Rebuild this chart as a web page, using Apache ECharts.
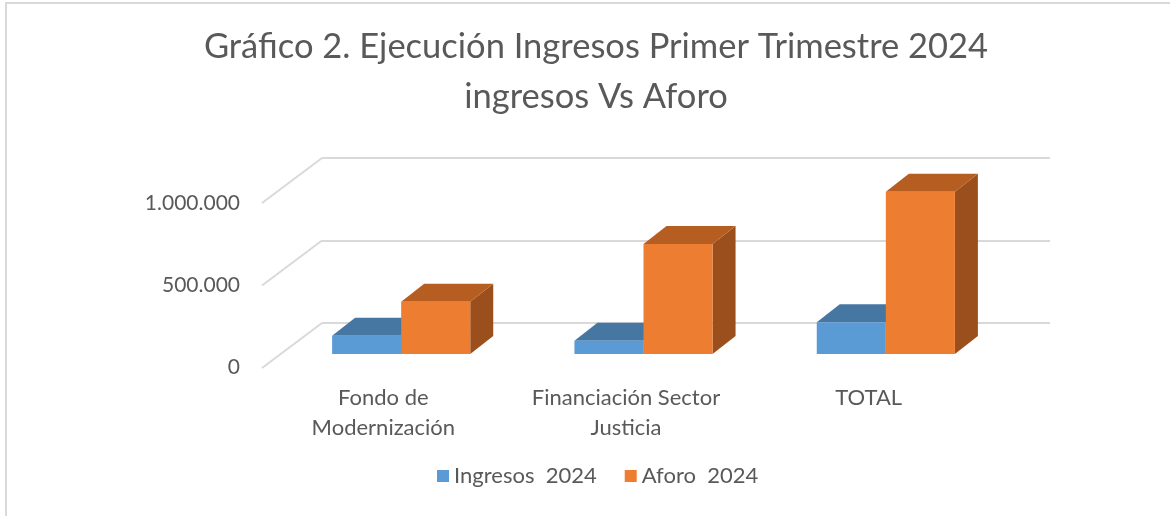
<!DOCTYPE html>
<html>
<head>
<meta charset="utf-8">
<script src="https://cdn.jsdelivr.net/npm/echarts@6/dist/echarts.min.js"></script>
<style>
  html, body { margin: 0; padding: 0; background: #fff; }
  #chart { width: 1170px; height: 516px; }
</style>
</head>
<body>
<div id="chart"></div>
<script>
let categories = ["Fondo de\nModernización", "Financiación Sector\nJusticia", "TOTAL"];
let ingresos = [111000, 81000, 192000];
let aforo = [317000, 667000, 984000];
let yTicks = [0, 500000, 1000000];
let seriesNames = ["Ingresos  2024", "Aforo  2024"];

let textColor = "#595959";
let fontFam = "Lato, 'Open Sans', sans-serif";
// front, top, side
let blueShades = ["#5B9BD5", "#4677A3", "#3F6E98"];
let orangeShades = ["#ED7D31", "#B65E22", "#9A4F1C"];

let chart = echarts.init(document.getElementById('chart'), null, { renderer: 'canvas' });

function fmt(v) {
  return String(v).replace(/\B(?=(\d{3})+(?!\d))/g, ".");
}

// 3d box: pos 0 = left half of band, 1 = right half
function boxItem(shades, pos) {
  return function (params, api) {
    let idx = api.value(0);
    let val = api.value(1);
    let top = api.coord([idx, val]);
    let base = api.coord([idx, 0]);
    let band = api.size([1, 0])[0];
    let w = band * 0.285;
    let x0 = pos == 0 ? top[0] - w : top[0];
    let x1 = x0 + w;
    let dx = 23, dy = -18;
    return {
      type: 'group',
      children: [
        {
          type: 'polygon',
          shape: { points: [[x1, top[1]], [x1 + dx, top[1] + dy], [x1 + dx, base[1] + dy], [x1, base[1]]] },
          style: { fill: shades[2] }
        },
        {
          type: 'polygon',
          shape: { points: [[x0, top[1]], [x0 + dx, top[1] + dy], [x1 + dx, top[1] + dy], [x1, top[1]]] },
          style: { fill: shades[1] }
        },
        {
          type: 'rect',
          shape: { x: x0, y: top[1], width: w, height: base[1] - top[1] },
          style: { fill: shades[0] }
        }
      ]
    };
  };
}

let option = {
  backgroundColor: "#ffffff",
  animation: false,
  title: {
    text: "Gráfico 2. Ejecución Ingresos Primer Trimestre 2024\ningresos Vs Aforo",
    left: 591,
    top: 17,
    textAlign: 'center',
    textStyle: {
      fontFamily: fontFam,
      fontSize: 34.5,
      fontWeight: 'normal',
      color: textColor,
      lineHeight: 50
    }
  },
  legend: {
    data: seriesNames,
    bottom: 24,
    left: 432,
    icon: 'rect',
    itemWidth: 12,
    itemHeight: 12,
    itemGap: 28,
    textStyle: { fontFamily: fontFam, fontSize: 22, color: textColor }
  },
  graphic: [{
    type: 'rect',
    shape: { x: 6, y: 3, width: 1200, height: 600 },
    style: { fill: null, stroke: '#d9d9d9', lineWidth: 2 },
    silent: true
  }],
  grid: [
    // bar plane
    { left: 280, right: 163, top: 189, bottom: 162 },
    // front floor plane
    { left: 262, right: 180, top: 203, bottom: 149 },
    // back wall
    { left: 322, right: 120, top: 158, bottom: 193 }
  ],
  xAxis: [
    { type: 'category', gridIndex: 0, data: categories, show: false },
    {
      type: 'category', gridIndex: 1, data: categories,
      axisLine: { show: false }, axisTick: { show: false },
      axisLabel: { interval: 0, margin: 16, fontFamily: fontFam, fontSize: 22, color: textColor, lineHeight: 30 }
    },
    { type: 'value', gridIndex: 2, min: 0, max: 1, show: false }
  ],
  yAxis: [
    { type: 'value', gridIndex: 0, min: 0, max: 1000000, show: false },
    {
      type: 'value', gridIndex: 1, min: 0, max: 1000000, interval: 500000,
      axisLine: { show: false }, axisTick: { show: false }, splitLine: { show: false },
      axisLabel: { margin: 22, fontFamily: fontFam, fontSize: 21, color: textColor, formatter: fmt }
    },
    {
      type: 'value', gridIndex: 2, min: 0, max: 1000000, interval: 500000,
      axisLine: { show: false }, axisTick: { show: false }, axisLabel: { show: false },
      splitLine: { show: true, lineStyle: { color: '#d9d9d9', width: 2 } }
    }
  ],
  series: [
    {
      // diagonal floor-to-wall lines
      type: 'custom',
      xAxisIndex: 2, yAxisIndex: 2,
      silent: true,
      data: yTicks.map(function (v) { return [0, v]; }),
      renderItem: function (params, api) {
        let p = api.coord([0, api.value(1)]);
        return {
          type: 'line',
          shape: { x1: p[0], y1: p[1], x2: p[0] - 60, y2: p[1] + 45 },
          style: { stroke: '#d9d9d9', lineWidth: 2 }
        };
      },
      z: 1
    },
    {
      name: seriesNames[0],
      type: 'custom',
      xAxisIndex: 0, yAxisIndex: 0,
      itemStyle: { color: blueShades[0] },
      data: ingresos.map(function (v, i) { return [i, v]; }),
      renderItem: boxItem(blueShades, 0),
      z: 2
    },
    {
      name: seriesNames[1],
      type: 'custom',
      xAxisIndex: 0, yAxisIndex: 0,
      itemStyle: { color: orangeShades[0] },
      data: aforo.map(function (v, i) { return [i, v]; }),
      renderItem: boxItem(orangeShades, 1),
      z: 3
    }
  ]
};

chart.setOption(option);
</script>
</body>
</html>
